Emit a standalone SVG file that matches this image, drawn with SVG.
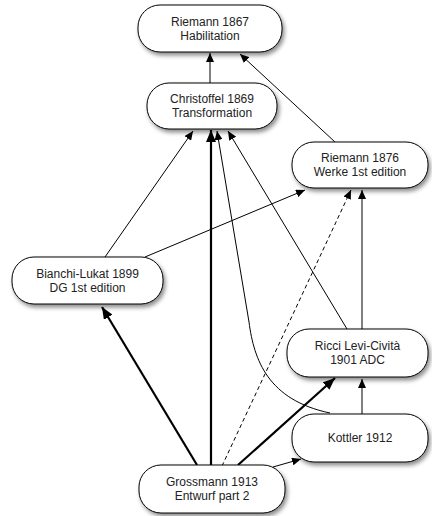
<svg xmlns="http://www.w3.org/2000/svg" width="432" height="516" viewBox="0 0 432 516">
<style>
.n rect{fill:#fff;stroke:#000;stroke-width:1;}
.n text{font-family:"Liberation Sans",Arial,sans-serif;font-size:12px;text-anchor:middle;fill:#222;}
.e path{fill:none;stroke:#000;}
.t{stroke-width:1;}
.k{stroke-width:2.2;}
.d{stroke-width:1;stroke-dasharray:4,3;}
</style>
<defs>
<filter id="sh" x="-20%" y="-20%" width="140%" height="150%">
<feDropShadow dx="2" dy="3" stdDeviation="2" flood-color="#000" flood-opacity="0.45"/>
</filter>
<marker id="a" markerUnits="userSpaceOnUse" markerWidth="10" markerHeight="8" refX="9" refY="4" orient="auto">
<path d="M0,0 L9,4 L0,8 Z" fill="#000"/>
</marker>
<marker id="b" markerUnits="userSpaceOnUse" markerWidth="13" markerHeight="10" refX="12" refY="5" orient="auto">
<path d="M0,0 L12,5 L0,10 Z" fill="#000"/>
</marker>
</defs>
<g id="edges" class="e">
<path class="t" d="M210,83 L210,53" marker-end="url(#a)"/>
<path class="t" d="M335,142 L240,54" marker-end="url(#a)"/>
<path class="t" d="M105,257 L193,131" marker-end="url(#a)"/>
<path class="t" d="M145,257 L305,190" marker-end="url(#a)"/>
<path class="k" d="M211,465 L211,130" marker-end="url(#b)"/>
<path class="t" d="M330,413 C268,400 254,360 249,322 L217,131" marker-end="url(#a)"/>
<path class="t" d="M347,329 L228,131" marker-end="url(#a)"/>
<path class="d" d="M222,466 L351,190" marker-end="url(#a)"/>
<path class="t" d="M362,329 L362,190" marker-end="url(#a)"/>
<path class="k" d="M197,465 L102,307" marker-end="url(#b)"/>
<path class="k" d="M238,465 L335,378" marker-end="url(#b)"/>
<path class="t" d="M273,467 L301,459" marker-end="url(#a)"/>
<path class="t" d="M362,414 L362,379" marker-end="url(#a)"/>
</g>
<g id="riemann1867" class="n"><rect x="138" y="5" width="144" height="47" rx="22" filter="url(#sh)"/><text x="210" y="25.5">Riemann 1867</text><text x="210" y="39.5">Habilitation</text></g>
<g id="christoffel1869" class="n"><rect x="147" y="83" width="130" height="46" rx="22" filter="url(#sh)"/><text x="212" y="103">Christoffel 1869</text><text x="212" y="117">Transformation</text></g>
<g id="riemann1876" class="n"><rect x="292" y="142" width="136" height="46" rx="22" filter="url(#sh)"/><text x="360" y="162">Riemann 1876</text><text x="360" y="176">Werke 1st edition</text></g>
<g id="bianchi1899" class="n"><rect x="12" y="257" width="151" height="47" rx="22" filter="url(#sh)"/><text x="87.5" y="277.5">Bianchi-Lukat 1899</text><text x="87.5" y="291.5">DG 1st edition</text></g>
<g id="ricci1901" class="n"><rect x="287" y="329" width="141" height="48" rx="22" filter="url(#sh)"/><text x="357.5" y="350">Ricci Levi-Cività</text><text x="357.5" y="364">1901 ADC</text></g>
<g id="kottler1912" class="n"><rect x="292" y="414" width="136" height="48" rx="22" filter="url(#sh)"/><text x="360" y="442">Kottler 1912</text></g>
<g id="grossmann1913" class="n"><rect x="139" y="465" width="146" height="48" rx="22" filter="url(#sh)"/><text x="212" y="486">Grossmann 1913</text><text x="212" y="500">Entwurf part 2</text></g>
</svg>
